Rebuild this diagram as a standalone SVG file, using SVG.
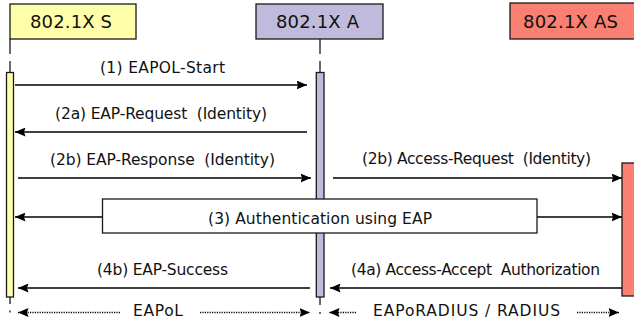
<svg xmlns="http://www.w3.org/2000/svg" width="634" height="323" viewBox="0 0 634 323">
  <style>
    .box { stroke: #1a1a1a; stroke-width: 1.3; }
    .life { stroke: #1a1a1a; stroke-width: 1.3; fill: none; }
    .msg { stroke: #000; stroke-width: 1.3; fill: none; marker-end: url(#head); }
    .dot { stroke: #000; stroke-width: 1.3; fill: none; stroke-dasharray: 1.2 1.2; marker-end: url(#head); }
    text { font-family: "DejaVu Sans", "Liberation Sans", sans-serif; fill: #111; }
    .title { font-size: 18px; }
    .lbl { font-size: 15.5px; }
  </style>
  <defs>
    <marker id="head" markerUnits="userSpaceOnUse" markerWidth="11" markerHeight="9" refX="10.5" refY="4.5" orient="auto">
      <path d="M0,0 L10.5,4.5 L0,9 L1.5,4.5 z" fill="#000"/>
    </marker>
  </defs>

  <!-- lifelines -->
  <g id="lifelines">
    <path class="life" d="M10,39 V54 M10,61 V72 M10,297 V304 M10,310.5 V312.5"/>
    <path class="life" d="M320,39 V54 M320,61 V72 M320,297 V305 M320,312 V314"/>
  </g>

  <!-- participants -->
  <g id="node-s">
    <rect class="box" x="10" y="4" width="126" height="35" fill="#ffffaa"/>
    <text class="title" x="30" y="28" textLength="82">802.1X S</text>
    <rect class="box" x="6.5" y="72.5" width="7" height="224.5" fill="#ffffaa"/>
  </g>
  <g id="node-a">
    <rect class="box" x="256" y="4" width="127" height="35" fill="#c0bbdd"/>
    <text class="title" x="276" y="28" textLength="83">802.1X A</text>
    <rect class="box" x="316.3" y="72.5" width="7.7" height="224.5" fill="#c0bbdd"/>
  </g>
  <g id="node-as">
    <rect class="box" x="510" y="3" width="140" height="36" fill="#fa8072"/>
    <text class="title" x="523" y="28" textLength="95">802.1X AS</text>
    <rect class="box" x="622" y="163" width="20" height="133" fill="#fa8072"/>
  </g>

  <!-- messages -->
  <g id="connectors">
    <path class="msg" d="M15,85 H307"/>
    <path class="msg" d="M307,132 H15"/>
    <path class="msg" d="M18,178 H311"/>
    <path class="msg" d="M333,178 H622"/>
    <path class="msg" d="M102,217 H15"/>
    <path class="msg" d="M537,217 H622"/>
    <path class="msg" d="M310,288 H18"/>
    <path class="msg" d="M622,288 H330"/>
    <path class="dot" d="M120,312.5 H18"/>
    <path class="dot" d="M200,312.5 H310"/>
    <path class="dot" d="M356,312.5 H329"/>
    <path class="dot" d="M577,312.5 H619"/>
  </g>

  <!-- authentication block spanning the exchange -->
  <g id="node-auth">
    <rect class="box" x="102.5" y="199" width="434.5" height="34" fill="#fff"/>
    <text class="lbl" x="208" y="224" textLength="224">(3) Authentication using EAP</text>
  </g>

  <!-- labels -->
  <g id="labels">
    <text class="lbl" x="100" y="73" textLength="125">(1) EAPOL-Start</text>
    <text class="lbl" x="55" y="119" textLength="212" xml:space="preserve">(2a) EAP-Request  (Identity)</text>
    <text class="lbl" x="50" y="165" textLength="225" xml:space="preserve">(2b) EAP-Response  (Identity)</text>
    <text class="lbl" x="362" y="164" textLength="229" xml:space="preserve">(2b) Access-Request  (Identity)</text>
    <text class="lbl" x="97" y="275" textLength="131">(4b) EAP-Success</text>
    <text class="lbl" x="351" y="275" textLength="249" xml:space="preserve">(4a) Access-Accept  Authorization</text>
    <text class="lbl" x="133" y="316" textLength="50">EAPoL</text>
    <text class="lbl" x="373" y="316" textLength="187">EAPoRADIUS / RADIUS</text>
  </g>
</svg>
